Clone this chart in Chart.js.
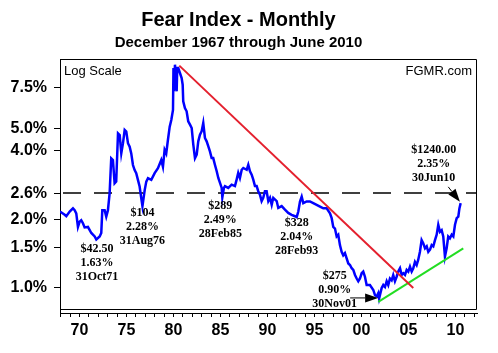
<!DOCTYPE html>
<html><head><meta charset="utf-8">
<script src="https://cdn.jsdelivr.net/npm/chart.js@4.4.1/dist/chart.umd.min.js"></script>
<style>html,body{margin:0;padding:0;background:#fff}#c{display:block}</style>
</head><body>
<canvas id="c" width="498" height="353"></canvas>
<script>
// ---- data (decimal year, percent) ----
const years = [1967.92,1968.43,1968.60,1968.96,1969.31,1969.49,1969.66,1969.84,1970.02,1970.19,1970.37,1970.55,1970.90,1971.09,1971.26,1971.62,1971.79,1972.15,1972.32,1972.43,1972.68,1972.85,1973.03,1973.21,1973.38,1973.56,1973.74,1973.91,1974.10,1974.28,1974.45,1974.63,1974.81,1974.98,1975.16,1975.34,1975.51,1975.69,1975.87,1976.04,1976.22,1976.40,1976.55,1976.70,1976.94,1977.11,1977.29,1977.64,1978.00,1978.35,1978.70,1978.88,1979.06,1979.23,1979.41,1979.60,1979.77,1979.95,1980.00,1980.05,1980.16,1980.34,1980.40,1980.51,1980.69,1980.87,1980.98,1981.04,1981.22,1981.40,1981.57,1981.76,1981.94,1982.11,1982.29,1982.47,1982.64,1982.82,1983.00,1983.17,1983.35,1983.53,1983.70,1983.88,1984.06,1984.23,1984.41,1984.60,1984.77,1984.95,1985.13,1985.20,1985.37,1985.48,1985.83,1986.19,1986.54,1986.72,1986.89,1987.07,1987.26,1987.43,1987.79,1987.96,1988.14,1988.32,1988.49,1988.67,1988.85,1989.02,1989.20,1989.38,1989.55,1989.73,1989.91,1990.09,1990.27,1990.45,1990.62,1990.98,1991.15,1991.51,1991.86,1992.21,1992.57,1992.93,1993.11,1993.28,1993.46,1993.64,1993.81,1994.17,1994.52,1994.87,1995.23,1995.59,1995.94,1996.30,1996.65,1996.83,1997.00,1997.18,1997.36,1997.53,1997.71,1997.89,1998.06,1998.24,1998.60,1998.78,1998.96,1999.13,1999.31,1999.49,1999.66,1999.84,2000.02,2000.19,2000.37,2000.55,2000.90,2001.26,2001.44,2001.62,2001.79,2001.88,2002.15,2002.32,2002.50,2002.68,2002.85,2003.03,2003.21,2003.38,2003.56,2003.74,2003.91,2004.10,2004.28,2004.45,2004.63,2004.81,2004.98,2005.16,2005.34,2005.51,2005.69,2005.87,2006.04,2006.22,2006.40,2006.57,2006.76,2006.94,2007.11,2007.29,2007.47,2007.64,2007.82,2008.00,2008.17,2008.35,2008.53,2008.70,2008.88,2009.06,2009.23,2009.41,2009.60,2009.77,2009.95,2010.13,2010.30,2010.42,2010.55];
const fearPct = [2.16,2.09,2.06,2.16,2.23,2.19,2.12,1.85,1.95,1.98,1.92,1.84,1.85,1.79,1.74,1.68,1.63,1.68,1.74,2.19,2.19,2.05,2.19,2.60,3.69,3.63,2.87,2.92,4.75,4.67,3.88,4.30,4.91,4.83,4.30,4.15,3.88,3.45,3.28,3.18,2.97,2.78,2.51,2.28,2.68,2.92,3.02,2.97,3.18,3.34,3.63,3.39,4.02,3.88,4.44,5.08,5.43,6.01,9.17,7.25,9.48,7.25,9.17,9.17,8.72,8.29,7.75,6.56,6.13,5.93,5.36,5.18,5.01,4.24,3.70,3.83,4.38,4.68,4.85,5.27,4.53,4.38,4.17,3.96,3.70,3.70,3.46,3.24,3.03,2.88,2.74,2.49,2.74,2.79,2.74,2.83,2.79,2.98,3.19,3.03,3.29,3.35,3.29,3.46,3.24,3.13,2.98,2.79,2.79,2.65,2.56,2.40,2.48,2.65,2.65,2.40,2.48,2.31,2.48,2.40,2.24,2.28,2.20,2.13,2.09,2.06,2.04,2.16,2.39,2.51,2.35,2.39,2.39,2.35,2.31,2.27,2.23,2.23,2.12,2.02,1.85,1.82,1.68,1.71,1.54,1.44,1.39,1.42,1.28,1.26,1.22,1.20,1.14,1.10,1.07,1.10,1.16,1.18,1.12,1.03,1.03,0.98,0.93,0.92,0.95,0.90,1.00,1.03,1.01,1.07,1.03,1.10,1.08,1.14,1.07,1.12,1.18,1.22,1.14,1.16,1.14,1.20,1.18,1.24,1.18,1.22,1.30,1.26,1.33,1.44,1.62,1.57,1.49,1.52,1.44,1.47,1.54,1.52,1.62,1.71,1.89,1.76,1.79,1.68,1.37,1.49,1.68,1.65,1.71,1.68,1.89,2.02,2.05,2.23,2.35];
const redTrendYears = [1980.62, 2005.51];
const redTrendPct = [9.39, 1.00];
const greenTrendYears = [2001.79, 2010.83];
const greenTrendPct = [0.87, 1.49];
const refLevel = 2.6;
const yTickValues = [1, 1.5, 2, 2.6, 4, 5, 7.5];
const xLabelYears = [1970, 1975, 1980, 1985, 1990, 1995, 2000, 2005, 2010];
const xFirstTickYear = 1968, xLastTickYear = 2012;
const xMin = 1967.93, xMax = 2012.29;
const yMin = 0.7772, yMax = 10.04;
// annotations
const annYears = [1971.79, 1976.70, 1985.20, 1993.11, 2001.88, 2010.55];
const annPct = [1.63, 2.28, 2.49, 2.04, 0.90, 2.35];
const annPrice = ['$42.50', '$104', '$289', '$328', '$275', '$1240.00'];
const annDate = ['31Oct71', '31Aug76', '28Feb85', '28Feb93', '30Nov01', '30Jun10'];

// ---- layout of annotations (pixel offsets from anchor point) ----
const annLayout = [
  {dx: 0.7, dy: 9.8},
  {dx: 0, dy: 6.7},
  {dx: -2, dy: 8.3},
  {dx: 0, dy: 6},
  {dx: -44.5, dy: -22.8, arrow: [-29, -0.5, -1, -0.5]},
  {dx: -27, dy: -53.7, arrow: [-12.4, -16.3, -0.7, -1.3]}
];

const xTicks = [];
for (let y = xFirstTickYear; y <= xLastTickYear; y++) xTicks.push(y);

function drawArrow(ctx, x1, y1, x2, y2, len, w) {
  const a = Math.atan2(y2 - y1, x2 - x1);
  const bx = x2 - len * Math.cos(a), by = y2 - len * Math.sin(a);
  ctx.beginPath(); ctx.moveTo(x1, y1); ctx.lineTo(bx, by); ctx.stroke();
  ctx.beginPath(); ctx.moveTo(x2, y2);
  ctx.lineTo(bx + w / 2 * Math.sin(a), by - w / 2 * Math.cos(a));
  ctx.lineTo(bx - w / 2 * Math.sin(a), by + w / 2 * Math.cos(a));
  ctx.closePath(); ctx.fill();
}

const decor = {
  id: 'decor',
  beforeDatasetsDraw(chart) {
    const {ctx, chartArea: a} = chart;
    ctx.save();
    ctx.strokeStyle = '#000'; ctx.lineWidth = 1;
    ctx.beginPath();
    ctx.moveTo(a.left, a.top + 0.5); ctx.lineTo(a.right - 0.5, a.top + 0.5);
    ctx.lineTo(a.right - 0.5, a.bottom - 3.5); ctx.lineTo(a.left, a.bottom - 3.5);
    ctx.stroke();
    ctx.restore();
  },
  afterDatasetsDraw(chart) {
    const {ctx, chartArea: a, scales} = chart;
    ctx.save();
    ctx.fillStyle = '#000';
    ctx.textBaseline = 'middle';
    ctx.font = '13px "Liberation Sans", Arial, sans-serif';
    ctx.textAlign = 'left';
    ctx.fillText('Log Scale', a.left + 4, a.top + 12);
    ctx.textAlign = 'right';
    ctx.fillText('FGMR.com', a.right - 5, a.top + 12);
    ctx.font = 'bold 12px "Liberation Serif", "Times New Roman", serif';
    ctx.textAlign = 'center';
    ctx.strokeStyle = '#000'; ctx.lineWidth = 1;
    annYears.forEach((yr, i) => {
      const px = scales.x.getPixelForValue(yr);
      const py = scales.y.getPixelForValue(annPct[i]);
      const L = annLayout[i];
      const lines = [annPrice[i], annPct[i].toFixed(2) + '%', annDate[i]];
      lines.forEach((t, k) => ctx.fillText(t, px + L.dx, py + L.dy + k * 14));
      if (L.arrow) {
        drawArrow(ctx, px + L.arrow[0], py + L.arrow[1], px + L.arrow[2], py + L.arrow[3], 13, 9);
      }
    });
    ctx.restore();
  }
};

const tickFont = {family: '"Liberation Sans", Arial, sans-serif', size: 16, weight: 'bold'};

new Chart(document.getElementById('c'), {
  type: 'line',
  data: {
    datasets: [
      {data: redTrendYears.map((x, i) => ({x, y: redTrendPct[i]})), borderColor: '#e4202e', borderWidth: 2, pointRadius: 0, order: 1},
      {data: greenTrendYears.map((x, i) => ({x, y: greenTrendPct[i]})), borderColor: '#22dd22', borderWidth: 2, pointRadius: 0, order: 1},
      {data: years.map((x, i) => ({x, y: fearPct[i]})), borderColor: '#0000ff', borderWidth: 2.5, pointRadius: 0, tension: 0, order: 3},
      {data: [{x: xMin, y: refLevel}, {x: xMax, y: refLevel}], borderColor: '#000', borderWidth: 1.5, borderDash: [18, 13], borderDashOffset: -3, pointRadius: 0, order: 4}
    ]
  },
  options: {
    responsive: false,
    devicePixelRatio: 1,
    animation: false,
    layout: {padding: {left: 0, right: 21, top: 0, bottom: 0}},
    plugins: {
      legend: {display: false},
      tooltip: {enabled: false},
      title: {display: true, text: 'Fear Index - Monthly', color: '#000',
        font: {family: '"Liberation Sans", Arial, sans-serif', size: 20, weight: 'bold'},
        padding: {top: 8, bottom: 2}},
      subtitle: {display: true, text: 'December 1967 through June 2010', color: '#000',
        font: {family: '"Liberation Sans", Arial, sans-serif', size: 15, weight: 'bold'},
        padding: {top: 0, bottom: 7}}
    },
    scales: {
      x: {
        type: 'linear', min: xMin, max: xMax,
        afterBuildTicks: s => { s.ticks = xTicks.map(v => ({value: v})); },
        afterFit: s => { s.height = 40; },
        ticks: {autoSkip: false, maxRotation: 0, color: '#000', font: tickFont, padding: 4,
          callback: v => xLabelYears.includes(v) ? String(v % 100).padStart(2, '0') : ''},
        grid: {display: true, drawOnChartArea: false, drawTicks: true, tickLength: 4, color: '#000'},
        border: {display: true, color: '#000', width: 1}
      },
      y: {
        type: 'logarithmic', min: yMin, max: yMax,
        afterBuildTicks: s => { s.ticks = yTickValues.map(v => ({value: v})); },
        afterFit: s => { s.width = 60; },
        ticks: {color: '#000', font: tickFont, padding: 7, callback: v => Number(v).toFixed(1) + '%'},
        grid: {display: true, drawOnChartArea: false, drawTicks: true, tickLength: 6, color: '#000'},
        border: {display: true, color: '#000', width: 1}
      }
    }
  },
  plugins: [decor]
});
</script>
</body></html>
